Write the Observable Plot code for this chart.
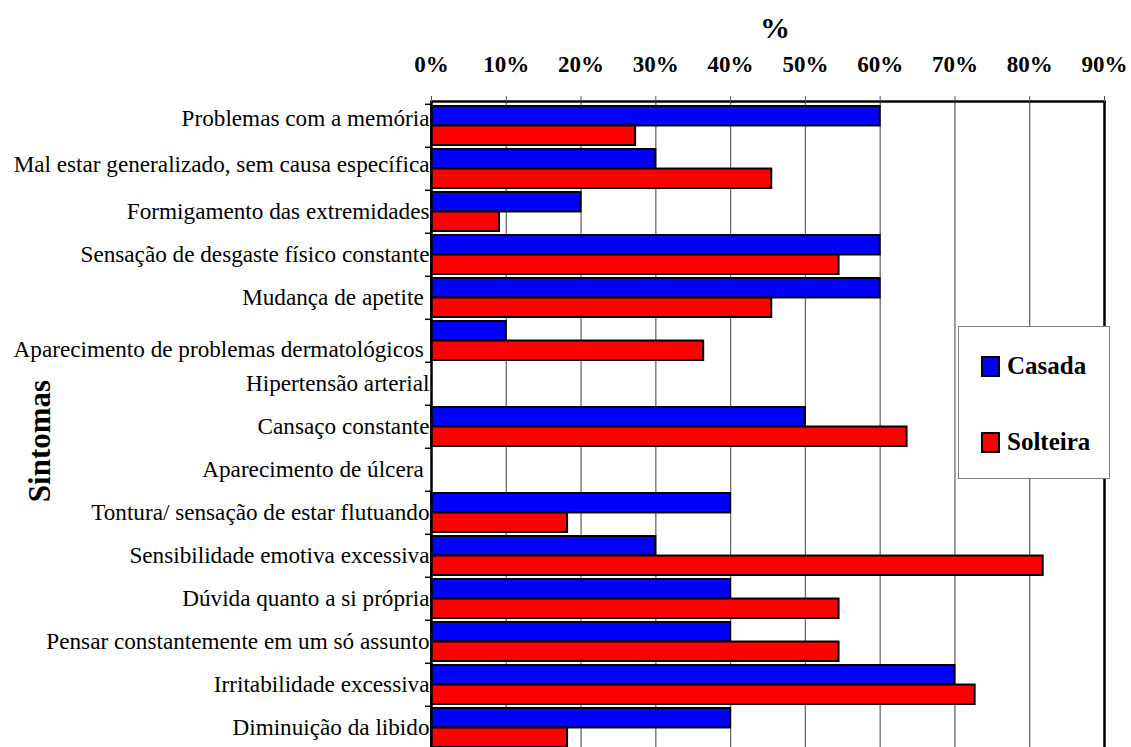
<!DOCTYPE html>
<html>
<head>
<meta charset="utf-8">
<script src="https://cdn.jsdelivr.net/npm/d3@7"></script>
<script src="https://cdn.jsdelivr.net/npm/@observablehq/plot@0.6"></script>
<style>
  html, body { margin: 0; padding: 0; background: #fff; }
  #wrap { position: relative; width: 1131px; height: 747px; overflow: hidden; font-family: "Liberation Serif", "Times New Roman", serif; }
  #legend { position: absolute; left: 958px; top: 326px; width: 152px; height: 153px; border: 1px solid #808080; background: #fff; box-sizing: border-box; }
  .item { position: absolute; left: 22px; height: 22px; display: flex; align-items: center; }
  .sw { width: 15px; height: 17px; border: 2px solid #000; margin-right: 7px; }
  .lab { font-weight: bold; font-size: 25px; color: #000; line-height: 22px; }
</style>
</head>
<body>
<div id="wrap"></div>
<script>
// ---- data ----
const categories = [
  "Problemas com a memória",
  "Mal estar generalizado, sem causa específica",
  "Formigamento das extremidades",
  "Sensação de desgaste físico constante",
  "Mudança de apetite\u00A0",
  "Aparecimento de problemas dermatológicos\u00A0",
  "Hipertensão arterial",
  "Cansaço constante",
  "Aparecimento de úlcera\u00A0",
  "Tontura/ sensação de estar flutuando",
  "Sensibilidade emotiva excessiva",
  "Dúvida quanto a si própria",
  "Pensar constantemente em um só assunto",
  "Irritabilidade excessiva",
  "Diminuição da libido"
];
const casada   = [60, 30, 20, 60, 60, 10, 0, 50, 0, 40, 30, 40, 40, 70, 40];
const solteira = [27.3, 45.5, 9.1, 54.5, 45.5, 36.4, 0, 63.6, 0, 18.2, 81.8, 54.5, 54.5, 72.7, 18.2];
const seriesNames = ["Casada", "Solteira"];
const seriesColors = ["#0000FF", "#FF0000"];
const xTicks = [0, 10, 20, 30, 40, 50, 60, 70, 80, 90];
const xTitle = "%";
const yTitle = "Sintomas";

// ---- layout ----
const step = 43.4, padInner = 0.1, padOuter = 0.05;
const mTop = 101, H = 760;
const plotH = step * (categories.length - padInner + 2 * padOuter);
const bw = step * (1 - padInner);
const font = "'Liberation Serif','Times New Roman',serif";
const labelSize = 23.2;

// small vertical nudges of individual category labels (as in the original)
const labelNudge = new Map([[categories[0], -7], [categories[1], -4], [categories[5], 9]]);
const plainCats = categories.filter(c => !labelNudge.has(c));

const rows = categories.map((c, i) => ({cat: c, casada: casada[i], solteira: solteira[i]}));

const yLabelAxes = [
  Plot.axisY(plainCats, {tickSize: 0, tickPadding: 2, fontSize: labelSize, label: null}),
  ...[...labelNudge].map(([c, dy]) => Plot.axisY([c], {tickSize: 0, tickPadding: 2, fontSize: labelSize, label: null, dy}))
];

const chart = Plot.plot({
  width: 1131,
  height: H,
  marginTop: mTop,
  marginLeft: 431,
  marginRight: 27,
  marginBottom: H - mTop - plotH,
  style: {fontFamily: font, background: "transparent", color: "#000", overflow: "visible"},
  x: {domain: [0, 90]},
  y: {domain: categories, paddingInner: padInner, paddingOuter: padOuter},
  marks: [
    Plot.ruleX(xTicks.slice(1, -1), {stroke: "#6a6a6a", strokeWidth: 1.3}),
    Plot.barX(rows.filter(d => d.casada > 0), {y: "cat", x: "casada", fill: seriesColors[0], stroke: "#000", strokeWidth: 2, insetBottom: bw / 2}),
    Plot.barX(rows.filter(d => d.solteira > 0), {y: "cat", x: "solteira", fill: seriesColors[1], stroke: "#000", strokeWidth: 2, insetTop: bw / 2}),
    Plot.ruleX([0], {stroke: "#000", strokeWidth: 2.5}),
    Plot.ruleX([90], {stroke: "#000", strokeWidth: 2.5}),
    Plot.frame({anchor: "top", stroke: "#000", strokeWidth: 2.5}),
    Plot.ruleY(categories, {y: d => d, x1: 0, x2: 0, insetLeft: -6, dy: -step / 2, stroke: "#000", strokeWidth: 1.5}),
    Plot.axisX(xTicks, {anchor: "top", tickFormat: d => d + "%", tickSize: 6, tickPadding: 24, fontSize: 23, fontWeight: "bold", label: null, stroke: "#555"}),
    ...yLabelAxes,
    Plot.text([xTitle], {frameAnchor: "top", lineAnchor: "middle", textAnchor: "middle", dx: 7, dy: -73, fontSize: 30, fontWeight: "bold"}),
    Plot.text([yTitle], {frameAnchor: "left", lineAnchor: "middle", textAnchor: "middle", dx: -391, dy: 14, rotate: -90, fontSize: 31, fontWeight: "bold"})
  ]
});

const wrap = document.getElementById("wrap");
wrap.appendChild(chart);

// legend
const legend = document.createElement("div");
legend.id = "legend";
seriesNames.forEach((name, i) => {
  const item = document.createElement("div");
  item.className = "item";
  item.style.top = (28 + i * 76) + "px";
  const sw = document.createElement("div");
  sw.className = "sw";
  sw.style.background = seriesColors[i];
  const lab = document.createElement("span");
  lab.className = "lab";
  lab.textContent = name;
  item.appendChild(sw);
  item.appendChild(lab);
  legend.appendChild(item);
});
wrap.appendChild(legend);
</script>
</body>
</html>
